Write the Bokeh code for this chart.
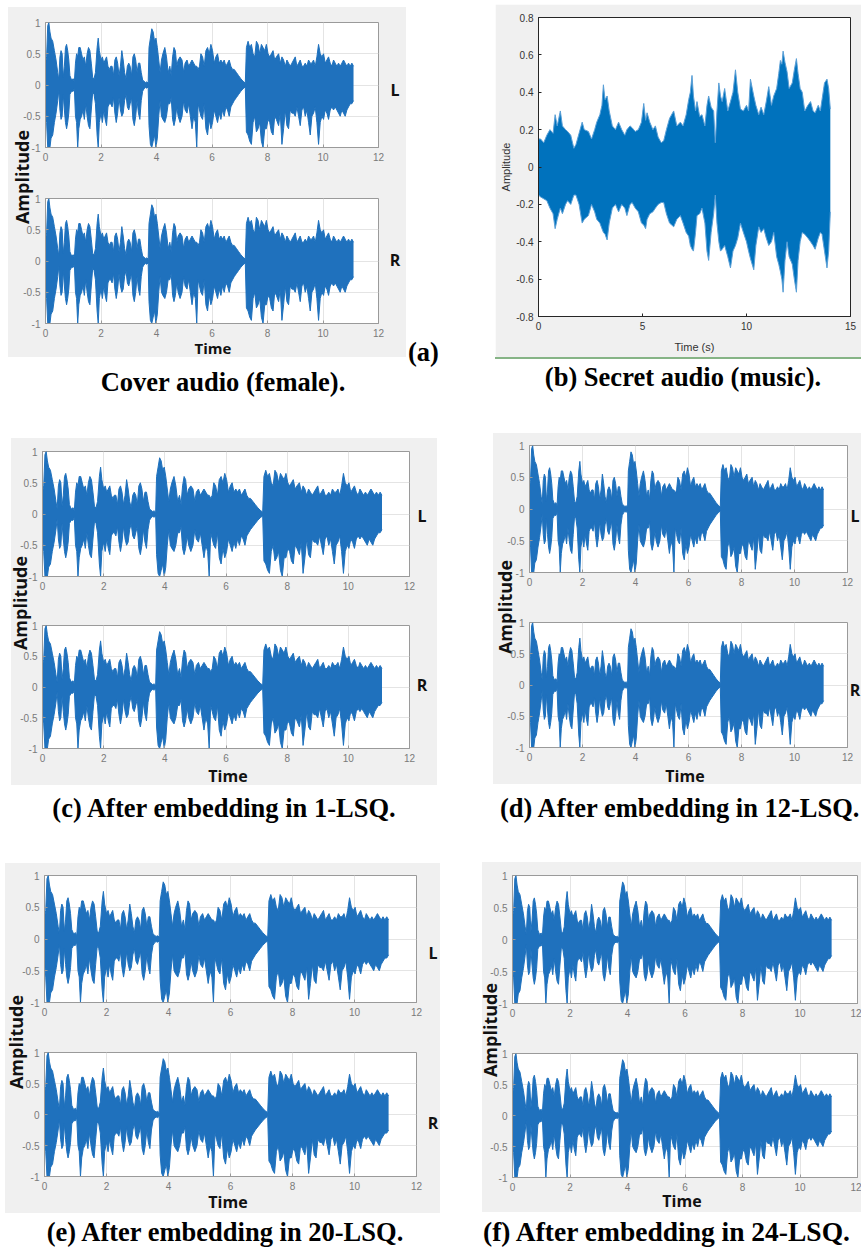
from bokeh.plotting import figure
from bokeh.models import (Div, Spacer, Row, Column, Range1d, FixedTicker,
                          CustomJSTickFormatter)
from bokeh.embed import file_html
from bokeh.resources import INLINE

# ---------------- data ----------------
# Speech (cover / stego) waveform envelope: time (s), upper and lower amplitude
sp_t = [0.00, 0.04, 0.08, 0.12, 0.16, 0.20, 0.26, 0.32, 0.38, 0.44,
        0.48, 0.52, 0.56, 0.60, 0.64, 0.68, 0.72, 0.76, 0.80, 0.84,
        0.88, 0.94, 1.00, 1.04, 1.08, 1.12, 1.16, 1.20, 1.25, 1.30,
        1.35, 1.40, 1.45, 1.50, 1.55, 1.60, 1.65, 1.70, 1.75, 1.80,
        1.86, 1.90, 1.94, 2.00, 2.05, 2.10, 2.15, 2.20, 2.25, 2.30,
        2.35, 2.40, 2.45, 2.50, 2.55, 2.60, 2.65, 2.70, 2.75, 2.80,
        2.85, 2.90, 2.95, 3.00, 3.05, 3.10, 3.15, 3.20, 3.25, 3.30,
        3.35, 3.40, 3.45, 3.50, 3.55, 3.60, 3.65, 3.70, 3.73, 3.78,
        3.83, 3.88, 3.93, 3.98, 4.03, 4.08, 4.13, 4.18, 4.23, 4.30,
        4.36, 4.42, 4.48, 4.53, 4.58, 4.63, 4.68, 4.73, 4.78, 4.85,
        4.92, 4.98, 5.03, 5.10, 5.16, 5.22, 5.28, 5.34, 5.40, 5.45,
        5.50, 5.55, 5.60, 5.66, 5.72, 5.78, 5.84, 5.90, 5.96, 6.02,
        6.08, 6.14, 6.20, 6.26, 6.32, 6.38, 6.44, 6.50, 6.56, 6.62,
        6.68, 6.74, 6.80, 6.88, 6.96, 7.04, 7.12, 7.20, 7.24, 7.30,
        7.36, 7.42, 7.48, 7.54, 7.60, 7.66, 7.72, 7.78, 7.84, 7.90,
        7.96, 8.02, 8.08, 8.14, 8.20, 8.26, 8.32, 8.40, 8.46, 8.52,
        8.58, 8.64, 8.70, 8.76, 8.82, 8.88, 8.94, 9.00, 9.06, 9.12,
        9.18, 9.24, 9.30, 9.36, 9.42, 9.48, 9.54, 9.60, 9.66, 9.72,
        9.78, 9.84, 9.90, 9.96, 10.02, 10.08, 10.14, 10.20, 10.26, 10.32,
        10.38, 10.44, 10.50, 10.56, 10.62, 10.68, 10.74, 10.80, 10.86, 10.92,
        10.98, 11.04, 11.10]
sp_hi = [0.35, 0.45, 0.95, 1.0, 0.85, 0.75, 0.7, 0.55, 0.4, 0.2,
         0.08, 0.45, 0.55, 0.5, 0.12, 0.3, 0.6, 0.65, 0.55, 0.4,
         0.15, 0.08, 0.1, 0.05, 0.35, 0.5, 0.45, 0.6, 0.6, 0.5,
         0.4, 0.45, 0.3, 0.5, 0.6, 0.55, 0.35, 0.12, 0.1, 0.2,
         0.6, 0.75, 0.55, 0.4, 0.45, 0.35, 0.4, 0.45, 0.3, 0.25,
         0.3, 0.3, 0.15, 0.4, 0.45, 0.35, 0.15, 0.3, 0.55, 0.4,
         0.2, 0.1, 0.3, 0.35, 0.3, 0.15, 0.45, 0.5, 0.4, 0.2,
         0.35, 0.35, 0.2, 0.08, 0.06, 0.04, 0.05, 0.03, 0.6, 0.75,
         0.9, 0.85, 0.7, 0.75, 0.6, 0.4, 0.2, 0.4, 0.5, 0.6,
         0.45, 0.2, 0.3, 0.15, 0.45, 0.6, 0.55, 0.3, 0.4, 0.45,
         0.4, 0.2, 0.35, 0.4, 0.3, 0.35, 0.4, 0.35, 0.3, 0.3,
         0.25, 0.3, 0.5, 0.45, 0.3, 0.55, 0.6, 0.5, 0.65, 0.55,
         0.35, 0.45, 0.5, 0.35, 0.4, 0.35, 0.4, 0.3, 0.35, 0.4,
         0.3, 0.25, 0.25, 0.2, 0.15, 0.1, 0.06, 0.03, 0.6, 0.7,
         0.6, 0.65, 0.5, 0.45, 0.7, 0.65, 0.5, 0.65, 0.6, 0.55,
         0.65, 0.5, 0.45, 0.5, 0.55, 0.4, 0.45, 0.5, 0.35, 0.45,
         0.4, 0.3, 0.4, 0.35, 0.3, 0.35, 0.4, 0.45, 0.3, 0.35,
         0.4, 0.3, 0.3, 0.35, 0.3, 0.4, 0.35, 0.35, 0.4, 0.3,
         0.45, 0.65, 0.5, 0.45, 0.5, 0.35, 0.4, 0.45, 0.35, 0.3,
         0.4, 0.35, 0.3, 0.35, 0.3, 0.35, 0.4, 0.35, 0.3, 0.35,
         0.3, 0.35, 0.3]
sp_lo = [-0.35, -0.6, -1.0, -1.0, -1.0, -0.85, -0.8, -0.6, -0.45, -0.25,
         -0.08, -0.4, -0.55, -0.5, -0.15, -0.4, -0.6, -0.7, -0.6, -0.45,
         -0.15, -0.1, -0.1, -0.05, -0.5, -0.6, -1.0, -0.7, -0.55, -0.5,
         -0.4, -0.55, -0.3, -0.5, -0.65, -0.7, -0.4, -0.12, -0.15, -0.3,
         -0.8, -1.0, -0.6, -0.45, -0.6, -0.4, -0.55, -0.65, -0.35, -0.3,
         -0.3, -0.35, -0.2, -0.45, -0.6, -0.45, -0.2, -0.4, -0.5, -0.45,
         -0.25, -0.15, -0.35, -0.4, -0.3, -0.2, -0.55, -0.65, -0.5, -0.25,
         -0.45, -0.55, -0.25, -0.1, -0.06, -0.04, -0.05, -0.03, -0.65, -0.95,
         -1.0, -0.9, -0.8, -1.0, -0.85, -0.5, -0.25, -0.5, -0.55, -0.6,
         -0.5, -0.3, -0.3, -0.2, -0.55, -0.65, -0.55, -0.35, -0.5, -0.6,
         -0.5, -0.25, -0.4, -0.45, -0.3, -0.5, -0.7, -0.5, -0.6, -1.0,
         -0.3, -0.4, -0.5, -0.55, -0.3, -0.7, -0.8, -0.55, -0.7, -0.6,
         -0.4, -0.5, -0.6, -0.45, -0.55, -0.4, -0.5, -0.35, -0.4, -0.5,
         -0.35, -0.3, -0.25, -0.2, -0.15, -0.1, -0.06, -0.03, -0.75, -0.8,
         -0.9, -0.95, -0.6, -0.5, -0.75, -0.7, -0.6, -0.9, -1.0, -0.7,
         -0.7, -0.55, -0.6, -0.75, -0.8, -0.5, -0.55, -0.65, -0.45, -0.95,
         -0.7, -0.4, -0.65, -0.7, -0.4, -0.45, -0.45, -0.5, -0.35, -0.5,
         -0.65, -0.4, -0.35, -0.5, -0.4, -0.6, -0.8, -0.5, -0.45, -0.35,
         -0.6, -0.95, -0.6, -0.5, -0.55, -0.4, -0.45, -0.55, -0.4, -0.35,
         -0.4, -0.35, -0.4, -0.45, -0.5, -0.4, -0.45, -0.5, -0.4, -0.35,
         -0.3, -0.3, -0.25]

# Secret music waveform envelope
mu_t = [0.0, 0.1, 0.25, 0.4, 0.55, 0.7, 0.8, 0.9, 1.05, 1.15,
        1.3, 1.4, 1.55, 1.7, 1.8, 1.95, 2.1, 2.2, 2.4, 2.55,
        2.7, 2.8, 2.95, 3.05, 3.12, 3.2, 3.3, 3.4, 3.55, 3.7,
        3.85, 4.0, 4.15, 4.25, 4.4, 4.5, 4.65, 4.8, 4.95, 5.06,
        5.15, 5.22, 5.35, 5.5, 5.62, 5.75, 5.9, 6.02, 6.15, 6.3,
        6.5, 6.65, 6.82, 6.95, 7.1, 7.22, 7.3, 7.38, 7.45, 7.55,
        7.62, 7.75, 7.86, 8.0, 8.1, 8.18, 8.3, 8.42, 8.5, 8.58,
        8.67, 8.75, 8.83, 8.95, 9.1, 9.23, 9.35, 9.47, 9.58, 9.71,
        9.85, 10.0, 10.1, 10.19, 10.35, 10.45, 10.59, 10.7, 10.83, 10.95,
        11.07, 11.2, 11.31, 11.45, 11.55, 11.63, 11.7, 11.76, 11.85, 11.95,
        12.05, 12.2, 12.3, 12.4, 12.48, 12.58, 12.68, 12.8, 12.95, 13.08,
        13.2, 13.3, 13.45, 13.55, 13.63, 13.75, 13.87, 13.95, 14.03]
mu_hi = [0.15, 0.15, 0.13, 0.17, 0.2, 0.18, 0.28, 0.22, 0.3, 0.22,
         0.2, 0.19, 0.17, 0.1, 0.12, 0.18, 0.24, 0.2, 0.19, 0.15,
         0.2, 0.24, 0.28, 0.33, 0.44, 0.36, 0.38, 0.3, 0.22, 0.2,
         0.24, 0.2, 0.17, 0.2, 0.22, 0.21, 0.19, 0.2, 0.24, 0.34,
         0.25, 0.29, 0.24, 0.2, 0.22, 0.16, 0.13, 0.14, 0.2, 0.26,
         0.3, 0.22, 0.24, 0.22, 0.28, 0.36, 0.4, 0.49, 0.38, 0.3,
         0.35, 0.27, 0.28, 0.22, 0.33, 0.38, 0.32, 0.3, 0.13, 0.3,
         0.45, 0.38, 0.35, 0.42, 0.3, 0.35, 0.4, 0.52, 0.4, 0.31,
         0.3, 0.33, 0.3, 0.47, 0.38, 0.33, 0.28, 0.32, 0.28, 0.35,
         0.43, 0.33, 0.38, 0.42, 0.5, 0.57, 0.55, 0.62, 0.56, 0.51,
         0.42, 0.45, 0.52, 0.58, 0.5, 0.42, 0.4, 0.3, 0.33, 0.35,
         0.3, 0.29, 0.33, 0.3, 0.36, 0.45, 0.47, 0.42, 0.31]
mu_lo = [-0.15, -0.16, -0.17, -0.18, -0.22, -0.25, -0.33, -0.28, -0.22, -0.25,
         -0.2, -0.18, -0.2, -0.15, -0.15, -0.2, -0.3, -0.28, -0.26, -0.2,
         -0.24, -0.28, -0.3, -0.33, -0.35, -0.36, -0.39, -0.3, -0.22, -0.2,
         -0.24, -0.2, -0.22, -0.26, -0.2, -0.19, -0.22, -0.24, -0.3, -0.31,
         -0.33, -0.28, -0.25, -0.24, -0.22, -0.2, -0.19, -0.19, -0.25, -0.3,
         -0.32, -0.28, -0.26, -0.3, -0.35, -0.37, -0.42, -0.44, -0.45, -0.35,
         -0.26, -0.25, -0.22, -0.3, -0.45, -0.5, -0.35, -0.25, -0.15, -0.3,
         -0.4, -0.45, -0.44, -0.42, -0.48, -0.54, -0.45, -0.42, -0.38, -0.3,
         -0.35, -0.4, -0.45, -0.49, -0.55, -0.42, -0.32, -0.35, -0.33, -0.38,
         -0.42, -0.4, -0.35, -0.48, -0.52, -0.56, -0.6, -0.67, -0.5, -0.4,
         -0.48, -0.52, -0.6, -0.67, -0.5, -0.4, -0.35, -0.36, -0.38, -0.4,
         -0.42, -0.44, -0.38, -0.35, -0.36, -0.45, -0.54, -0.45, -0.24]

assert len(sp_t) == len(sp_hi) == len(sp_lo)
assert len(mu_t) == len(mu_hi) == len(mu_lo)

stereo_xticks = [0, 2, 4, 6, 8, 10, 12]
stereo_yticks = [-1, -0.5, 0, 0.5, 1]
music_xticks = [0, 5, 10, 15]
music_yticks = [-0.8, -0.6, -0.4, -0.2, 0, 0.2, 0.4, 0.6, 0.8]

caption_a = "Cover audio (female)."
label_a = "(a)"
caption_b = "(b) Secret audio (music)."
caption_c = "(c) After embedding in 1-LSQ."
caption_d = "(d) After embedding in 12-LSQ."
caption_e = "(e) After embedding in 20-LSQ."
caption_f = "(f) After embedding in 24-LSQ."

# ---------------- styles ----------------
GRAY = "#f0f0f0"
WAVE = "#1f71bd"
MWAVE = "#0072bd"
FRAME_C = "#9a9a9a"
GRID_C = "#e4e4e4"
TICKLAB_C = "#7a7a7a"
BOLD_FONT = "'Open Sans'"
FMT_CODE = "return String(Math.round(tick*10)/10);"


def style_axis(ax, line_c, lab_c, size="10px"):
    ax.axis_line_color = line_c
    ax.major_tick_line_color = line_c
    ax.major_tick_in = 3
    ax.major_tick_out = 0
    ax.minor_tick_line_color = None
    ax.major_label_text_color = lab_c
    ax.major_label_text_font = "Liberation Sans"
    ax.major_label_text_font_size = size
    ax.major_label_standoff = 5


def text_div(text, w, h, align="center", size=26.5, pad=0, overflow="visible"):
    html = ('<div style="box-sizing:border-box;width:%dpx;height:%dpx;line-height:%dpx;'
            'text-align:%s;padding-left:%dpx;font-family:\'Liberation Serif\',serif;'
            'font-weight:bold;font-size:%spx;color:#000;white-space:nowrap;overflow:%s;">%s</div>'
            % (w, h, h, align, pad, size, overflow, text))
    return Div(text=html, width=w, height=h, margin=0)


def span(gx, gy, c, text, size, rotate=False):
    rot = " rotate(-90deg)" if rotate else ""
    return ('<div style="position:absolute;left:%dpx;top:%dpx;transform:translate(-50%%,-50%%)%s;'
            'font-family:%s,sans-serif;font-weight:bold;font-size:%dpx;line-height:1;color:#111;'
            'white-space:nowrap;">%s</div>' % (c[0] - gx, c[1] - gy, rot, BOLD_FONT, size, text))


def stereo_panel(g, frames, amp_c, time_c, lab_pos, time_size=15):
    gx, gy, gw, gh = g
    fl, fr, t0, t1, b0, b1 = frames
    split = (t1 + b0) // 2
    specs = [(gy, split, t0, t1), (split, gy + gh, b0, b1)]
    figs = []
    for (y0, y1, f0, f1) in specs:
        p = figure(width=gw, height=y1 - y0, x_range=Range1d(0, 12), y_range=Range1d(-1, 1),
                   min_border_left=fl - gx, min_border_right=gx + gw - fr,
                   min_border_top=f0 - y0, min_border_bottom=y1 - f1,
                   output_backend="svg", toolbar_location=None,
                   border_fill_color=None, background_fill_color="white",
                   outline_line_color=FRAME_C)
        p.varea(x=sp_t, y1=sp_lo, y2=sp_hi, fill_color=WAVE)
        p.line(x=sp_t, y=sp_hi, line_color=WAVE, line_width=1)
        p.line(x=sp_t, y=sp_lo, line_color=WAVE, line_width=1)
        xa = p.xaxis[0]
        ya = p.yaxis[0]
        xa.ticker = FixedTicker(ticks=stereo_xticks)
        ya.ticker = FixedTicker(ticks=stereo_yticks)
        ya.formatter = CustomJSTickFormatter(code=FMT_CODE)
        style_axis(xa, FRAME_C, TICKLAB_C)
        style_axis(ya, FRAME_C, TICKLAB_C)
        p.grid.grid_line_color = GRID_C
        figs.append(p)
    texts = [span(gx, gy, amp_c, "Amplitude", 18, rotate=True),
             span(gx, gy, time_c, "Time", time_size)]
    if lab_pos is not None:
        texts.append(span(gx, gy, lab_pos[0], "L", 16))
        texts.append(span(gx, gy, lab_pos[1], "R", 16))
    html = ('<div style="position:relative;width:%dpx;height:%dpx;">%s</div>'
            % (gw, gh, "".join(texts)))
    overlay = Div(text=html, width=gw, height=gh, margin=(0, -gw, 0, 0))
    return Row(children=[overlay, Column(children=figs)], styles={"background-color": GRAY})


# ---------------- panel (b): music ----------------
pb = figure(width=366, height=353, x_range=Range1d(0, 15), y_range=Range1d(-0.8, 0.8),
            min_border_left=43, min_border_right=11, min_border_top=13, min_border_bottom=41,
            output_backend="svg", toolbar_location=None,
            border_fill_color=GRAY, background_fill_color="white", outline_line_color="#262626")
pb.varea(x=mu_t, y1=mu_lo, y2=mu_hi, fill_color=MWAVE)
pb.line(x=mu_t, y=mu_hi, line_color="#5a9fd6", line_width=1)
pb.line(x=mu_t, y=mu_lo, line_color="#5a9fd6", line_width=1)
pb.xaxis[0].ticker = FixedTicker(ticks=music_xticks)
pb.yaxis[0].ticker = FixedTicker(ticks=music_yticks)
pb.yaxis[0].formatter = CustomJSTickFormatter(code=FMT_CODE)
for ax in (pb.xaxis[0], pb.yaxis[0]):
    style_axis(ax, "#262626", "#333333")
    ax.axis_label_text_font = "Liberation Sans"
    ax.axis_label_text_font_style = "normal"
    ax.axis_label_text_font_size = "11px"
    ax.axis_label_text_color = "#333333"
pb.xaxis[0].axis_label = "Time (s)"
pb.xaxis[0].axis_label_standoff = 8
pb.yaxis[0].axis_label = "Amplitude"
pb.yaxis[0].axis_label_standoff = 1
pb.grid.visible = False

# ---------------- stereo panels ----------------
panel_a = stereo_panel((8, 7, 398, 350), (45, 378, 22, 147, 198, 323), (22, 177), (213, 348),
                       ((395, 90), (395, 260)), time_size=15)
panel_c = stereo_panel((11, 438, 426, 347), (42, 409, 451, 576, 625, 748), (20, 603), (228, 776),
                       ((422, 516), (422, 685)), time_size=16)
panel_d = stereo_panel((493, 433, 368, 351), (529, 847, 445, 572, 622, 747), (505, 607), (685, 776),
                       ((855, 516), (855, 690)), time_size=16)
panel_e = stereo_panel((5, 863, 435, 350), (44, 416, 875, 1002, 1052, 1176), (16, 1042), (228, 1202),
                       ((433, 953), (433, 1123)), time_size=16)
panel_f = stereo_panel((482, 862, 379, 350), (512, 857, 875, 1003, 1053, 1177), (490, 1030), (682, 1201),
                       None, time_size=16)


def vsp(h):
    return Spacer(width=1, height=h)


def hsp(w):
    return Spacer(width=w, height=1)


left = Column(children=[
    vsp(7),
    Row(children=[hsp(8), panel_a,
                  Column(children=[vsp(331), text_div(label_a, 38, 28, "left", 26.5, pad=2)])]),
    text_div(caption_a, 446, 32, "center", 26.5),
    vsp(40),
    Row(children=[hsp(11), panel_c]),
    vsp(7),
    text_div(caption_c, 448, 32, "center", 26.5),
    vsp(39),
    Row(children=[hsp(5), panel_e]),
    vsp(3),
    text_div(caption_e, 450, 32, "center", 26.5),
], width=480)

green = Div(text="", width=366, height=2, margin=0, styles={"background-color": "#86b486"})

right = Column(children=[
    vsp(4),
    Row(children=[hsp(15), pb]),
    Row(children=[hsp(15), green]),
    vsp(2),
    Row(children=[hsp(33), text_div(caption_b, 340, 32, "center", 26.5)]),
    vsp(40),
    Row(children=[hsp(13), panel_d]),
    vsp(8),
    Row(children=[hsp(20), text_div(caption_d, 361, 32, "left", 26.5, overflow="hidden")]),
    vsp(38),
    Row(children=[hsp(2), panel_f]),
    vsp(4),
    Row(children=[hsp(3), text_div(caption_f, 378, 32, "left", 27.5, overflow="hidden")]),
], width=381)

root = Row(children=[left, right])

open("out.html", "w").write(file_html(root, INLINE, "Audio waveforms"))
